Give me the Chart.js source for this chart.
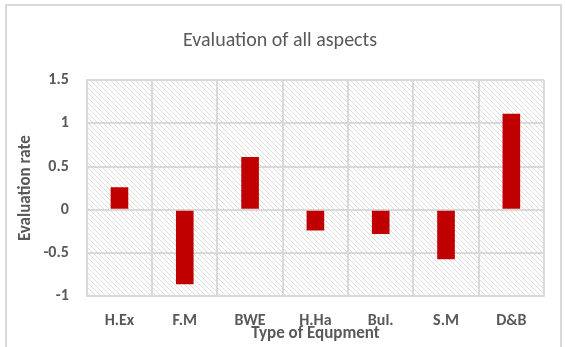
<!DOCTYPE html>
<html>
<head>
<meta charset="utf-8">
<script src="https://cdn.jsdelivr.net/npm/chart.js@4/dist/chart.umd.min.js"></script>
<style>
  html, body { margin: 0; padding: 0; background: #fff; }
  #wrap { width: 565px; height: 347px; }
</style>
</head>
<body>
<div id="wrap"><canvas id="chart" width="565" height="347"></canvas></div>
<script>
// chart data
const categories = ['H.Ex', 'F.M', 'BWE', 'H.Ha', 'Bul.', 'S.M', 'D&B'];
const evaluationRates = [0.26, -0.86, 0.61, -0.24, -0.28, -0.57, 1.11];
const yTicks = [-1, -0.5, 0, 0.5, 1, 1.5];

const fontFamily = 'Carlito, Lato, "Open Sans", sans-serif';
const textColor = '#595959';
const gridColor = '#d9d9d9';

// Build a light diagonal hatch pattern for the plot background
const makeHatch = (ctx) => {
    const size = 5;
    const c = document.createElement('canvas');
    c.width = size;
    c.height = size;
    const p = c.getContext('2d');
    p.strokeStyle = '#dcdcdc';
    p.lineWidth = 1;
    p.beginPath();
    p.moveTo(0, 0);
    p.lineTo(size, size);
    p.moveTo(-size, 0);
    p.lineTo(size, size * 2);
    p.moveTo(0, -size);
    p.lineTo(size * 2, size);
    p.stroke();
    return ctx.createPattern(c, 'repeat');
};

// Plugin: outer frame and hatched plot area
const backgroundPlugin = {
    id: 'background',
    beforeDraw(chart) {
        const { ctx, chartArea } = chart;
        ctx.save();
        ctx.fillStyle = '#fff';
        ctx.fillRect(0, 0, chart.width, chart.height);
        ctx.strokeStyle = gridColor;
        ctx.lineWidth = 2;
        ctx.strokeRect(6, 5, chart.width - 10, chart.height - 4);
        ctx.fillStyle = makeHatch(ctx);
        ctx.fillRect(chartArea.left, chartArea.top, chartArea.right - chartArea.left, chartArea.bottom - chartArea.top);
        ctx.restore();
    }
};

new Chart(document.getElementById('chart').getContext('2d'), {
    type: 'bar',
    data: {
        labels: categories,
        datasets: [{
            label: 'Evaluation rate',
            data: evaluationRates,
            backgroundColor: '#c00000',
            borderWidth: 0,
            barPercentage: 0.27,
            categoryPercentage: 1,
        }],
    },
    options: {
        responsive: false,
        animation: false,
        layout: { padding: { left: 16, right: 21, top: 29, bottom: 3 } },
        plugins: {
            legend: { display: false },
            tooltip: { enabled: false },
            title: {
                display: true,
                text: 'Evaluation of all aspects',
                color: textColor,
                font: { family: fontFamily, size: 20, weight: 'normal' },
                padding: { top: 0, bottom: 27 },
            },
        },
        scales: {
            x: {
                grid: { color: gridColor, lineWidth: 2, offset: true, drawTicks: false },
                border: { color: gridColor, width: 2 },
                ticks: {
                    color: textColor,
                    font: { family: fontFamily, size: 16, weight: 'bold' },
                    padding: 15,
                },
                title: {
                    display: true,
                    text: 'Type of Equpment',
                    color: textColor,
                    font: { family: fontFamily, size: 17, weight: 'bold' },
                    padding: { top: -22, bottom: 0 },
                },
            },
            y: {
                min: -1,
                max: 1.5,
                afterBuildTicks: (axis) => {
                    axis.ticks = yTicks.map(v => ({ value: v }));
                },
                grid: { color: gridColor, lineWidth: 2, drawTicks: false },
                border: { color: gridColor, width: 2 },
                ticks: {
                    color: textColor,
                    font: { family: fontFamily, size: 16, weight: 'bold' },
                    padding: 18,
                    callback: (v) => String(v),
                },
                title: {
                    display: true,
                    text: 'Evaluation rate',
                    color: textColor,
                    font: { family: fontFamily, size: 17, weight: 'bold' },
                    padding: { top: 0, bottom: -11 },
                },
            },
        },
    },
    plugins: [backgroundPlugin],
});
</script>
</body>
</html>
